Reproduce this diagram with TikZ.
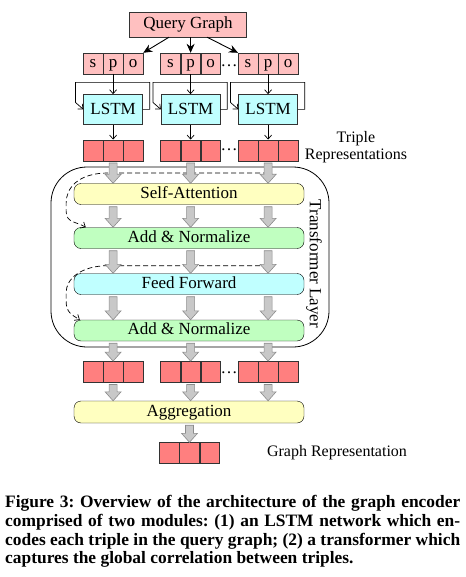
\documentclass[tikz,border=0pt]{standalone}
\usepackage{fontspec}
\setmainfont{Liberation Serif}
\usetikzlibrary{positioning,calc,arrows.meta}
\definecolor{edgegray}{HTML}{333333}
\definecolor{pinkfill}{HTML}{FFC0C0}
\definecolor{redfill}{HTML}{FF7F7F}
\definecolor{cyanfill}{HTML}{C0FFFF}
\definecolor{yellowfill}{HTML}{FFFFC0}
\definecolor{greenfill}{HTML}{C0FFC0}
\definecolor{arrfill}{HTML}{C8C8C8}
\definecolor{arrline}{HTML}{8C8C8C}

% wide grey arrow pointing down, from #1 to #2
\newcommand\fatarrow[2]{%
  \draw[fatarr] let \p1=(#1), \p2=(#2) in
    (\x1-4pt,\y1-2pt) -- (\x1+4pt,\y1-2pt) -- (\x1+4pt,\y2+9pt) -- (\x1+8pt,\y2+9pt)
    -- (\x1,\y2) -- (\x1-8pt,\y2+9pt) -- (\x1-4pt,\y2+9pt) -- cycle;}

\begin{document}
\begin{tikzpicture}[x=1pt,y=-1pt,node distance=0pt,
    font=\fontsize{17}{20}\selectfont,
    cell/.style={draw=edgegray,fill=pinkfill,minimum width=19.7pt,minimum height=21pt,
                 inner sep=0pt,text height=11.5pt,text depth=3.5pt},
    repcell/.style={cell,fill=redfill},
    query/.style={draw=edgegray,fill=pinkfill,minimum width=117pt,minimum height=25pt,inner sep=0pt},
    lstm/.style={draw=edgegray,fill=cyanfill,minimum width=59pt,minimum height=30pt,inner sep=0pt},
    block/.style={draw=black,rounded corners=7pt,minimum width=230pt,minimum height=21pt,
                  inner sep=0pt,text height=12pt,text depth=4pt},
    sidelabel/.style={font=\fontsize{16}{16.5}\selectfont,align=center},
    qarr/.style={-{Stealth[length=9pt,width=8pt]},line width=0.9pt},
    thinarr/.style={-{Straight Barb[length=4pt,width=7pt]},line width=0.7pt},
    skiparr/.style={thinarr,dash pattern=on 5pt off 3pt},
    fatarr/.style={draw=arrline,fill=arrfill,line width=0.6pt}]
  \useasboundingbox (0,0) rectangle (465,577);

  % query graph and LSTM encoders
  \node[query] (qg) at (188,24.5) {Query Graph};
  \foreach \g/\x in {1/93,2/170.5,3/248}{
    \node[cell] (s\g) at (\x,63.5) {s};
    \node[cell,right=of s\g] (p\g) {p};
    \node[cell,right=of p\g] (o\g) {o};
    \node[lstm,below=20pt of p\g] (l\g) {LSTM};
    \node[repcell,below=15pt of l\g] (tb\g) {};
    \node[repcell,left=of tb\g] (ta\g) {};
    \node[repcell,right=of tb\g] (tc\g) {};
    \draw[thinarr] (p\g) -- (l\g);
    \draw[thinarr] (l\g.east) -- ++(7,0) -- ++(0,-27) -| ($(l\g.west)+(-8,-7)$) -- (l\g.west);
    \draw[thinarr] (l\g) -- (tb\g);
  }
  \node[anchor=base] (dots1) at (229,67) {\dots};
  \node[anchor=base] (dots2) at (229,151) {\dots};
  \draw[qarr] ([xshift=-19pt]qg.south) -- (o1.north east);
  \draw[qarr] (qg.south -| p2) -- (p2);
  \draw[qarr] ([xshift=19pt]qg.south) -- (s3.north west);
  \node[sidelabel] (triplab) at (356,147) {Triple\\Representations};

  % transformer layer
  \node[draw=black,rounded corners=36pt,minimum width=278pt,minimum height=180pt,line width=0.8pt] (tl) at (190,257) {};
  \node[rotate=-90] (tllab) at (314,264) {Transformer Layer};
  \node[block,fill=yellowfill] (sa) at (189,194) {Self-Attention};
  \node[block,fill=greenfill] (an1) at (189,238) {Add \& Normalize};
  \node[block,fill=cyanfill] (ff) at (189,284) {Feed Forward};
  \node[block,fill=greenfill] (an2) at (189,330.5) {Add \& Normalize};
  \coordinate (skip1) at ($(tb3.south)+(0,12)$);
  \coordinate (skip2) at ($(an1.south -| tb3.south)+(0,17)$);
  \draw[skiparr] (skip1) -- ++(-160,0) .. controls +(-30,0) and +(0,-15) .. ++(-42,30)
    -- ++(0,8) .. controls +(0,12) and +(-10,-6) .. ($(an1.north west)+(12,0)$);
  \draw[skiparr] (skip2) -- ++(-160,0) .. controls +(-27,0) and +(0,-14) .. ++(-42,27)
    -- ++(0,8) .. controls +(0,12) and +(-8,-5) .. ($(an2.north west)+(6,0)$);

  % aggregation
  \foreach \g in {1,2,3}{
    \node[repcell] (ob\g) at ($(tb\g)+(0,221.5)$) {};
    \node[repcell,left=of ob\g] (oa\g) {};
    \node[repcell,right=of ob\g] (oc\g) {};
  }
  \node[anchor=base] (dots3) at (229,373) {\dots};
  \node[block,fill=yellowfill,minimum height=22pt] (agg) at (189,412) {Aggregation};
  \node[repcell] (gb) at (189.5,453) {};
  \node[repcell,left=of gb] (ga) {};
  \node[repcell,right=of gb] (gc) {};
  \node[sidelabel] (graphlab) at (337,453) {Graph Representation};

  \foreach \g in {1,2,3}{
    \fatarrow{tb\g.south}{sa.north -| tb\g.south}
    \fatarrow{sa.south -| tb\g.south}{an1.north -| tb\g.south}
    \fatarrow{an1.south -| tb\g.south}{ff.north -| tb\g.south}
    \fatarrow{ff.south -| tb\g.south}{an2.north -| tb\g.south}
    \fatarrow{an2.south -| tb\g.south}{ob\g.north}
    \fatarrow{ob\g.south}{agg.north -| ob\g.south}
  }
  \fatarrow{agg.south -| gb.north}{gb.north}

  \node[anchor=north west,text width=455pt,align=justify,inner sep=0pt,
        font=\fontsize{17.4}{18.6}\selectfont\bfseries\frenchspacing] (cap) at (5,495.5)
    {Figure 3: Overview of the architecture of the graph encoder\linebreak
     comprised of two modules: (1) an LSTM network which en-\linebreak
     codes each triple in the query graph; (2) a transformer which\linebreak
     captures the global correlation between triples.};
\end{tikzpicture}
\end{document}
